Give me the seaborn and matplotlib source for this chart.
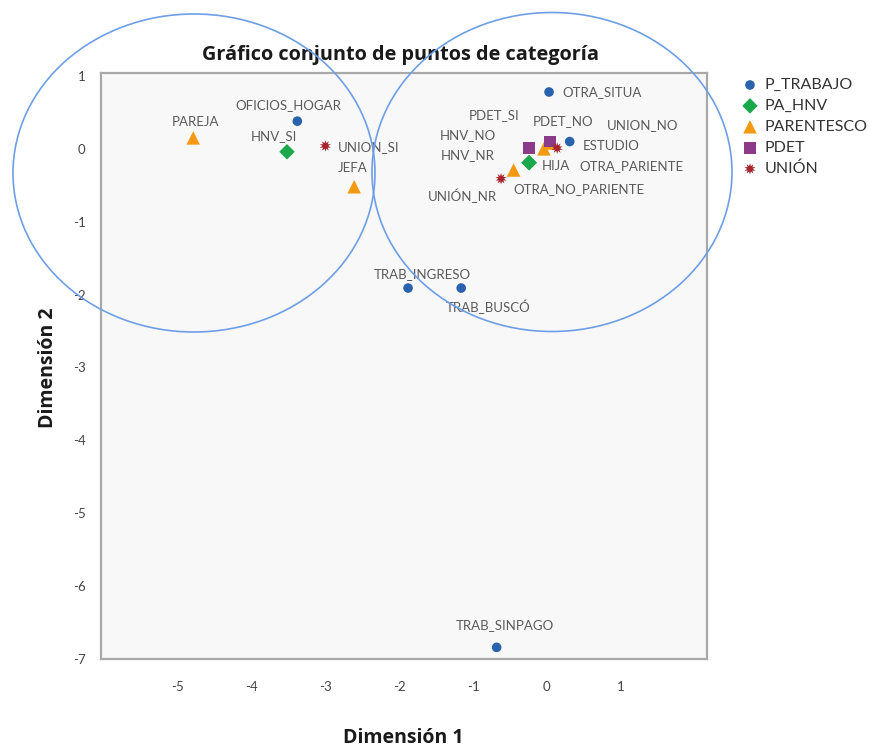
import numpy as np
import pandas as pd
import matplotlib
matplotlib.use("Agg")
import matplotlib.pyplot as plt
from matplotlib.patches import Ellipse
import seaborn as sns

# category points (dimension 1, dimension 2)
trabajo_names = ["OTRA_SITUA", "ESTUDIO", "OFICIOS_HOGAR", "TRAB_INGRESO", "TRAB_BUSCÓ", "TRAB_SINPAGO"]
trabajo_x = [0.03, 0.31, -3.38, -1.88, -1.16, -0.68]
trabajo_y = [0.78, 0.10, 0.38, -1.91, -1.91, -6.84]

hnv_names = ["HNV_SI", "HNV_NO", "HNV_NR"]
hnv_x = [-3.52, -0.24, -0.24]
hnv_y = [-0.04, -0.19, -0.19]

parentesco_names = ["PAREJA", "JEFA", "HIJA", "OTRA_PARIENTE", "OTRA_NO_PARIENTE"]
parentesco_x = [-4.79, -2.61, -0.04, 0.05, -0.45]
parentesco_y = [0.15, -0.52, 0.00, 0.08, -0.29]

pdet_names = ["PDET_SI", "PDET_NO"]
pdet_x = [-0.24, 0.04]
pdet_y = [0.01, 0.10]

union_names = ["UNION_SI", "UNION_NO", "UNIÓN_NR"]
union_x = [-3.00, 0.14, -0.62]
union_y = [0.04, 0.01, -0.41]

groups = ["P_TRABAJO", "PA_HNV", "PARENTESCO", "PDET", "UNIÓN"]
x_ticks = [-5, -4, -3, -2, -1, 0, 1]
y_ticks = [1, 0, -1, -2, -3, -4, -5, -6, -7]

frames = []
for g, n, xs, ys in zip(groups,
                        [trabajo_names, hnv_names, parentesco_names, pdet_names, union_names],
                        [trabajo_x, hnv_x, parentesco_x, pdet_x, union_x],
                        [trabajo_y, hnv_y, parentesco_y, pdet_y, union_y]):
    frames.append(pd.DataFrame({"grupo": g, "nombre": n, "dim1": xs, "dim2": ys}))
df = pd.concat(frames, ignore_index=True)

# style per group
colors = {"P_TRABAJO": "#2962ad", "PA_HNV": "#1aa84a", "PARENTESCO": "#f39a12",
          "PDET": "#8c3b8b", "UNIÓN": "#a6262e"}
markers = {"P_TRABAJO": "o", "PA_HNV": "D", "PARENTESCO": "^", "PDET": "s", "UNIÓN": (10, 1, 0)}
sizes = {"P_TRABAJO": 48, "PA_HNV": 62, "PARENTESCO": 95, "PDET": 72, "UNIÓN": 70}

# label offsets in pixels (dx, dy, ha)
offsets = {
    "OTRA_SITUA": (13, 0, "left"), "ESTUDIO": (13, -4, "left"),
    "OFICIOS_HOGAR": (-9, 16, "center"), "TRAB_INGRESO": (14, 14, "center"),
    "TRAB_BUSCÓ": (27, -19, "center"), "TRAB_SINPAGO": (8, 22, "center"),
    "HNV_SI": (-13, 16, "center"), "HNV_NO": (-61, 28, "center"), "HNV_NR": (-61, 8, "center"),
    "PAREJA": (2, 16, "center"), "JEFA": (-1, 19, "center"), "HIJA": (-2, -17, "left"),
    "OTRA_PARIENTE": (29, -23, "left"), "OTRA_NO_PARIENTE": (0, -19, "left"),
    "PDET_SI": (-35, 33, "center"), "PDET_NO": (13, 21, "center"),
    "UNION_SI": (12, -1, "left"), "UNION_NO": (85, 23, "center"), "UNIÓN_NR": (-39, -17, "center"),
}

sns.set_style("white")
plt.rcParams["font.family"] = ["Lato", "DejaVu Sans"]

fig = plt.figure(figsize=(8.69, 7.5), dpi=100)
ax = fig.add_axes([0.1162, 0.1213, 0.6974, 0.7813])
ax.set_facecolor("#f8f8f8")

for g in groups:
    sub = df[df["grupo"] == g]
    sns.scatterplot(data=sub, x="dim1", y="dim2", ax=ax, color=colors[g], marker=markers[g],
                    s=sizes[g], edgecolor="none", linewidth=0, label=g, zorder=3)

for _, r in df.iterrows():
    dx, dy, ha = offsets[r["nombre"]]
    ax.annotate(r["nombre"], (r["dim1"], r["dim2"]), xytext=(dx, dy), textcoords="offset pixels",
                ha=ha, va="center", fontsize=9.5, color="#5a5a5a", zorder=4)

ax.set_xlim(-6.04, 2.17)
ax.set_ylim(-7.0, 1.04)
ax.set_xticks(x_ticks)
ax.set_yticks(y_ticks)
ax.set_xticklabels([str(t) for t in x_ticks])
ax.set_yticklabels([str(t) for t in y_ticks])
ax.tick_params(axis="x", length=0, pad=16, labelsize=9.5, labelcolor="#444444")
ax.tick_params(axis="y", length=0, pad=11, labelsize=9.5, labelcolor="#444444")
for sp in ax.spines.values():
    sp.set_color("#a8a8a8")
    sp.set_linewidth(1.6)
ax.set_xlabel("")
ax.set_ylabel("")

head = ["Open Sans", "DejaVu Sans"]
fig.text(400 / 869, 1 - 60 / 750, "Gráfico conjunto de puntos de categoría", ha="center", va="baseline",
         fontsize=14.3, fontweight="bold", color="#1a1a1a", family=head)
fig.text(403 / 869, 1 - 738 / 750, "Dimensión 1", ha="center", va="center",
         fontsize=14, fontweight="bold", color="#1a1a1a", family=head)
fig.text(48 / 869, 1 - 368 / 750, "Dimensión 2", ha="center", va="center", rotation=90,
         fontsize=14, fontweight="bold", color="#1a1a1a", family=head)

ax.legend(loc="upper left", bbox_to_anchor=(742 / 869, 1 - 78 / 750), bbox_transform=fig.transFigure,
          frameon=False, fontsize=11.5, labelcolor="#333333", handlelength=1.0, handletextpad=0.4,
          labelspacing=0.42, borderaxespad=0, borderpad=0)

# highlight circles over the two clusters
for cx, cy, w, h in [(194, 173, 362, 318), (552, 172, 360, 319)]:
    fig.add_artist(Ellipse((cx / 869, 1 - cy / 750), w / 869, h / 750, transform=fig.transFigure,
                           fill=False, edgecolor="#6e9fe6", linewidth=1.2, zorder=10))

fig.savefig("out.png", dpi=100)
